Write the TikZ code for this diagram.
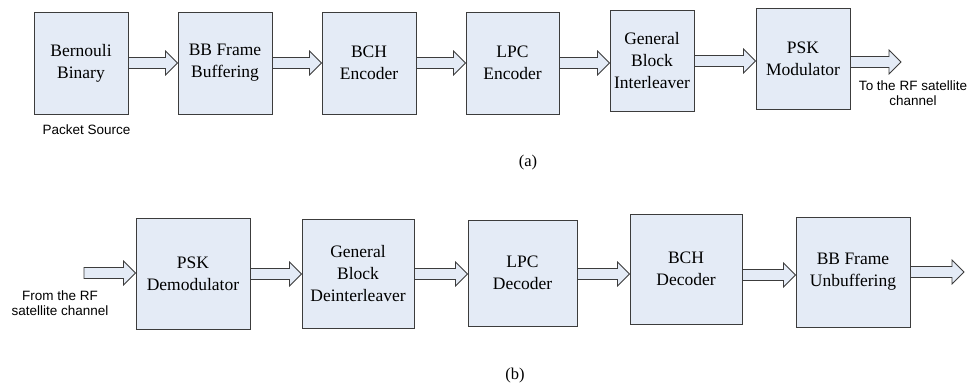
\documentclass[tikz,border=0pt]{standalone}
\usepackage{fontspec}
\setmainfont{Liberation Serif}
\setsansfont{Liberation Sans}
\usetikzlibrary{calc}
\definecolor{boxfill}{HTML}{E4EBF6}
\definecolor{boxline}{HTML}{3C3C3C}
\tikzset{
  blk/.style={draw=boxline, fill=boxfill, line width=0.9pt, align=center, inner sep=0pt,
    font=\fontsize{17.5}{22}\selectfont},
  lbl/.style={align=center, inner sep=0pt, font=\sffamily\fontsize{13.5}{15.5}\selectfont},
  captxt/.style={inner sep=0pt, font=\fontsize{16.5}{18}\selectfont},
  fatline/.style={draw=boxline, fill=boxfill, line width=0.8pt, line join=miter},
  fat/.style={to path={let \p1=(\tikztostart), \p2=(\tikztotarget) in
    (\x1,\y1+5.5pt) -- (\x2-12pt,\y1+5.5pt) -- (\x2-12pt,\y1+12pt) -- (\x2,\y1)
    -- (\x2-12pt,\y1-12pt) -- (\x2-12pt,\y1-5.5pt) -- (\x1,\y1-5.5pt) -- cycle}}
}
\begin{document}
\begin{tikzpicture}[x=1pt,y=-1pt]
\useasboundingbox (0,0) rectangle (971,385);
% top row
\node[blk, minimum width=94pt, minimum height=102pt] (b1) at (81,63) {Bernouli\\Binary};
\node[blk, minimum width=94pt, minimum height=102pt] (b2) at (225,63) {BB Frame\\Buffering};
\node[blk, minimum width=94pt, minimum height=102pt] (b3) at (369,63) {BCH\\Encoder};
\node[blk, minimum width=93pt, minimum height=102pt] (b4) at (512.5,63) {LPC\\Encoder};
\node[blk, minimum width=84pt, minimum height=101pt] (b5) at (652,60.5) {General\\Block\\Interleaver};
\node[blk, minimum width=94pt, minimum height=101pt] (b6) at (803,58.5) {PSK\\Modulator};
\coordinate (outa) at (901,62);
\node[lbl] (ps) at (86.5,130) {Packet Source};
\node[lbl] (rfout) at (913,93) {To the RF satellite\\channel};
\node[captxt] (capa) at (528,163) {(a)};
\path[fatline] (b1.east |- 0,63) to[fat] (b2.west |- 0,63);
\path[fatline] (b2.east |- 0,63) to[fat] (b3.west |- 0,63);
\path[fatline] (b3.east |- 0,63) to[fat] (b4.west |- 0,63);
\path[fatline] (b4.east |- 0,63) to[fat] (b5.west |- 0,63);
\path[fatline] (b5.east |- 0,61) to[fat] (b6.west |- 0,61);
\path[fatline] (b6.east |- 0,62) to[fat] (outa);
% bottom row
\node[blk, minimum width=114pt, minimum height=111pt] (c1) at (193,273.5) {PSK\\Demodulator};
\node[blk, minimum width=112pt, minimum height=109pt] (c2) at (358,273.5) {General\\Block\\Deinterleaver};
\node[blk, minimum width=109pt, minimum height=106pt] (c3) at (522.5,273) {LPC\\Decoder};
\node[blk, minimum width=112pt, minimum height=110pt] (c4) at (686,269) {BCH\\Decoder};
\node[blk, minimum width=114pt, minimum height=110pt] (c5) at (853,272) {BB Frame\\Unbuffering};
\coordinate (inb) at (84,273);
\coordinate (outb) at (964,272);
\node[lbl] (rfin) at (60,303) {From the RF\\satellite channel};
\node[captxt] (capb) at (515,376) {(b)};
\path[fatline] (inb) to[fat] (c1.west |- 0,273);
\path[fatline] (c1.east |- 0,274) to[fat] (c2.west |- 0,274);
\path[fatline] (c2.east |- 0,274) to[fat] (c3.west |- 0,274);
\path[fatline] (c3.east |- 0,274) to[fat] (c4.west |- 0,274);
\path[fatline] (c4.east |- 0,275) to[fat] (c5.west |- 0,275);
\path[fatline] (c5.east |- 0,272) to[fat] (outb);
\end{tikzpicture}
\end{document}
